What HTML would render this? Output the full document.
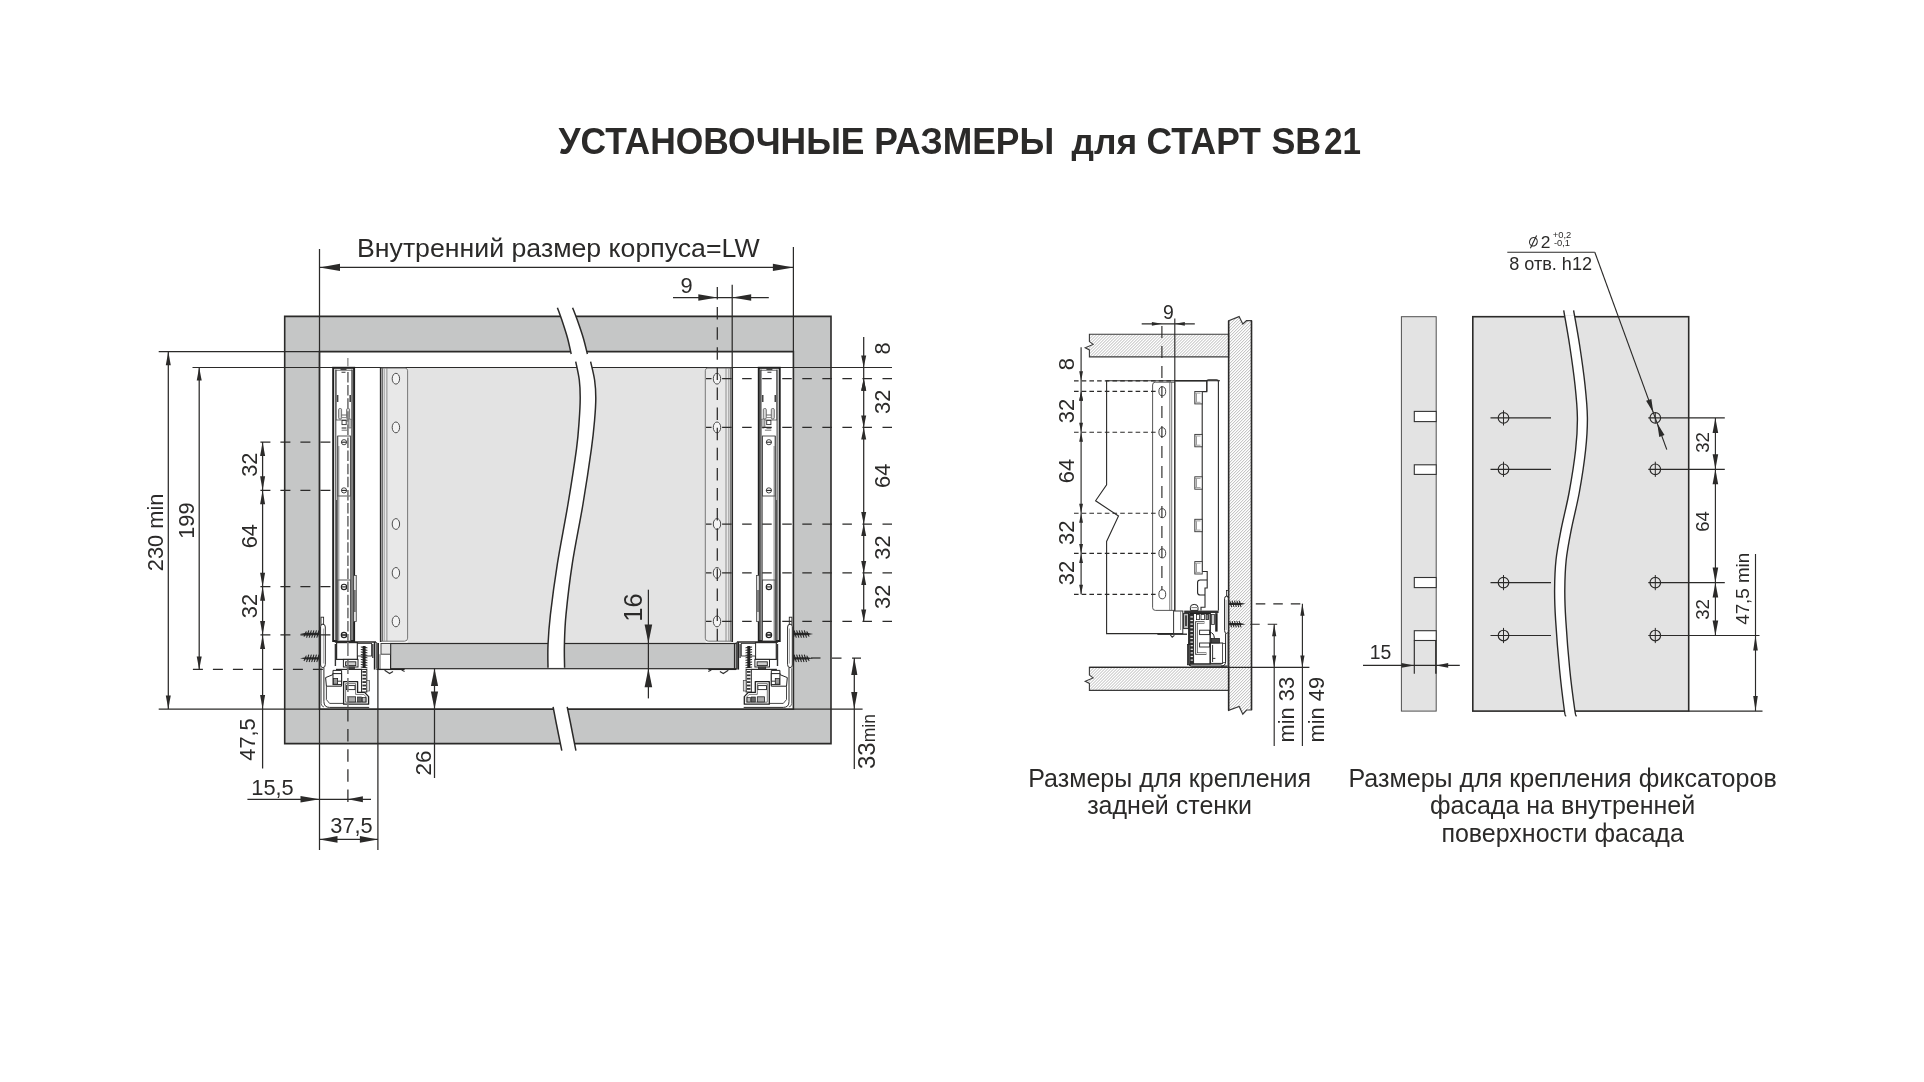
<!DOCTYPE html>
<html lang="ru"><head><meta charset="utf-8"><title>Установочные размеры для СТАРТ SB 21</title>
<style>
html,body{margin:0;padding:0;background:#fff;}
body{width:1924px;height:1082px;overflow:hidden;font-family:"Liberation Sans",sans-serif;}
svg{display:block;font-family:"Liberation Sans",sans-serif;will-change:transform;}
</style></head><body>
<svg width="1924" height="1082" viewBox="0 0 1924 1082">
<rect width="1924" height="1082" fill="#fff"/>
<g id="fig1">
<path d="M284.7 316.4 H831 V743.6 H284.7 Z M319.5 351.6 H793.4 V709.1 H319.5 Z" fill="#c5c6c6" stroke="#2b2a29" stroke-width="1.6" fill-rule="evenodd"/>
<rect x="407.6" y="367.5" width="298.1" height="276" fill="#e3e3e3"/>
<rect x="390.6" y="643.5" width="346.4" height="25.2" fill="#c5c6c6" stroke="#2b2a29" stroke-width="1.2"/>
<line x1="192.5" y1="367.5" x2="892" y2="367.5" stroke="#2b2a29" stroke-width="1.2"/>
<path d="M380.6 368.1 H405.1 Q407.6 368.1 407.6 370.7 V638.2 Q407.6 641.2 404.6 641.2 H380.6 Z" fill="#e8e8e8" stroke="#6a6a6a" stroke-width="0.9" />
<line x1="382.6" y1="368.1" x2="382.6" y2="641.2" stroke="#555" stroke-width="0.9"/>
<line x1="384.4" y1="368.1" x2="384.4" y2="641.2" stroke="#9a9a9a" stroke-width="0.7"/>
<line x1="386.9" y1="368.1" x2="386.9" y2="641.2" stroke="#777" stroke-width="0.8"/>
<line x1="380.6" y1="367.5" x2="380.6" y2="642" stroke="#2b2a29" stroke-width="1.5"/>
<ellipse cx="395.9" cy="378.7" rx="3.7" ry="5.4" fill="#f4f4f4" stroke="#3a3a3a" stroke-width="0.9"/>
<ellipse cx="395.9" cy="427.4" rx="3.7" ry="5.4" fill="#f4f4f4" stroke="#3a3a3a" stroke-width="0.9"/>
<ellipse cx="395.9" cy="524" rx="3.7" ry="5.4" fill="#f4f4f4" stroke="#3a3a3a" stroke-width="0.9"/>
<ellipse cx="395.9" cy="572.9" rx="3.7" ry="5.4" fill="#f4f4f4" stroke="#3a3a3a" stroke-width="0.9"/>
<ellipse cx="395.9" cy="621.4" rx="3.7" ry="5.4" fill="#f4f4f4" stroke="#3a3a3a" stroke-width="0.9"/>
<path d="M732.3 368.1 H707.8 Q705.3 368.1 705.3 370.7 V638.2 Q705.3 641.2 708.3 641.2 H732.3 Z" fill="#e8e8e8" stroke="#6a6a6a" stroke-width="0.9" />
<line x1="730.3" y1="368.1" x2="730.3" y2="641.2" stroke="#555" stroke-width="0.9"/>
<line x1="728.5" y1="368.1" x2="728.5" y2="641.2" stroke="#9a9a9a" stroke-width="0.7"/>
<line x1="726" y1="368.1" x2="726" y2="641.2" stroke="#777" stroke-width="0.8"/>
<line x1="732.3" y1="367.5" x2="732.3" y2="642" stroke="#2b2a29" stroke-width="1.5"/>
<ellipse cx="717" cy="378.7" rx="3.7" ry="5.4" fill="#f4f4f4" stroke="#3a3a3a" stroke-width="0.9"/>
<ellipse cx="717" cy="427.4" rx="3.7" ry="5.4" fill="#f4f4f4" stroke="#3a3a3a" stroke-width="0.9"/>
<ellipse cx="717" cy="524" rx="3.7" ry="5.4" fill="#f4f4f4" stroke="#3a3a3a" stroke-width="0.9"/>
<ellipse cx="717" cy="572.9" rx="3.7" ry="5.4" fill="#f4f4f4" stroke="#3a3a3a" stroke-width="0.9"/>
<ellipse cx="717" cy="621.4" rx="3.7" ry="5.4" fill="#f4f4f4" stroke="#3a3a3a" stroke-width="0.9"/>
<rect x="333.2" y="367.8" width="20.9" height="273.2" fill="#fff" stroke="#1f1f1f" stroke-width="2"/>
<line x1="335.8" y1="369.5" x2="335.8" y2="641" stroke="#333" stroke-width="1"/>
<line x1="352" y1="369.5" x2="352" y2="641" stroke="#2a2a2a" stroke-width="1.2"/>
<line x1="337.4" y1="436" x2="337.4" y2="641" stroke="#555" stroke-width="0.9"/>
<line x1="350.6" y1="436" x2="350.6" y2="641" stroke="#555" stroke-width="0.9"/>
<rect x="336.2" y="370.2" width="15.6" height="49.8" fill="#fff" stroke="#444" stroke-width="0.8"/>
<line x1="340.5" y1="369.2" x2="346.5" y2="369.2" stroke="#333" stroke-width="1.4"/>
<line x1="341.5" y1="372.3" x2="345.5" y2="372.3" stroke="#555" stroke-width="1.2"/>
<line x1="337.6" y1="395" x2="337.6" y2="402" stroke="#444" stroke-width="1.6"/>
<line x1="350.2" y1="395" x2="350.2" y2="402" stroke="#444" stroke-width="1.6"/>
<rect x="338.6" y="408.5" width="3" height="10.5" fill="#d8d8d8" stroke="#555" stroke-width="0.8" rx="1.2"/>
<rect x="346.6" y="408.5" width="3" height="10.5" fill="#d8d8d8" stroke="#555" stroke-width="0.8" rx="1.2"/>
<line x1="341.6" y1="415" x2="346.6" y2="415" stroke="#555" stroke-width="0.9"/>
<line x1="341.6" y1="417.6" x2="346.6" y2="417.6" stroke="#777" stroke-width="0.9"/>
<rect x="342" y="420.5" width="4.2" height="4.1" fill="#fff" stroke="#333" stroke-width="0.9"/>
<rect x="348" y="419" width="3.6" height="9" fill="#bbb" stroke="#555" stroke-width="0.7" rx="1.3"/>
<line x1="341.6" y1="428" x2="346.4" y2="428" stroke="#444" stroke-width="1.2"/>
<line x1="341.6" y1="430.2" x2="348" y2="430.2" stroke="#666" stroke-width="0.9"/>
<rect x="337.8" y="436" width="12.6" height="60" fill="#fff" stroke="#444" stroke-width="0.9"/>
<ellipse cx="344" cy="442.2" rx="2.6" ry="2.6" fill="#fff" stroke="#333" stroke-width="0.9"/>
<ellipse cx="344" cy="490.4" rx="2.6" ry="2.6" fill="#fff" stroke="#333" stroke-width="0.9"/>
<line x1="341.4" y1="442.2" x2="346.6" y2="442.2" stroke="#222" stroke-width="1.1"/>
<line x1="341.4" y1="490.4" x2="346.6" y2="490.4" stroke="#222" stroke-width="1.1"/>
<rect x="337.8" y="580" width="12.6" height="61" fill="#fff" stroke="#444" stroke-width="0.9"/>
<ellipse cx="344" cy="586.9" rx="2.7" ry="2.7" fill="#fff" stroke="#222" stroke-width="1.1"/>
<line x1="341.4" y1="586.9" x2="346.6" y2="586.9" stroke="#222" stroke-width="1.1"/>
<ellipse cx="344" cy="635" rx="2.7" ry="2.7" fill="#fff" stroke="#222" stroke-width="1.2"/>
<line x1="341.4" y1="635" x2="346.6" y2="635" stroke="#222" stroke-width="1.6"/>
<line x1="338.8" y1="446" x2="338.8" y2="640" stroke="#666" stroke-width="0.8"/>
<line x1="336.6" y1="500" x2="336.6" y2="640" stroke="#444" stroke-width="1"/>
<line x1="353.4" y1="500" x2="353.4" y2="575" stroke="#555" stroke-width="0.8"/>
<rect x="353.6" y="575.5" width="2.7" height="45.9" fill="#ddd" stroke="#444" stroke-width="0.8"/>
<line x1="354.9" y1="590" x2="354.9" y2="612" stroke="#444" stroke-width="1.2"/>
<line x1="347.9" y1="372" x2="347.9" y2="641" stroke="#808080" stroke-width="1.8" stroke-dasharray="10.5 2.6"/>
<line x1="347.9" y1="358" x2="347.9" y2="366.4" stroke="#666" stroke-width="1"/>
<rect x="758.8" y="367.8" width="20.9" height="273.2" fill="#fff" stroke="#1f1f1f" stroke-width="2"/>
<line x1="777.1" y1="369.5" x2="777.1" y2="641" stroke="#333" stroke-width="1"/>
<line x1="760.9" y1="369.5" x2="760.9" y2="641" stroke="#2a2a2a" stroke-width="1.2"/>
<line x1="775.5" y1="436" x2="775.5" y2="641" stroke="#555" stroke-width="0.9"/>
<line x1="762.3" y1="436" x2="762.3" y2="641" stroke="#555" stroke-width="0.9"/>
<rect x="761.1" y="370.2" width="15.6" height="49.8" fill="#fff" stroke="#444" stroke-width="0.8"/>
<line x1="772.4" y1="369.2" x2="766.4" y2="369.2" stroke="#333" stroke-width="1.4"/>
<line x1="771.4" y1="372.3" x2="767.4" y2="372.3" stroke="#555" stroke-width="1.2"/>
<line x1="775.3" y1="395" x2="775.3" y2="402" stroke="#444" stroke-width="1.6"/>
<line x1="762.7" y1="395" x2="762.7" y2="402" stroke="#444" stroke-width="1.6"/>
<rect x="771.3" y="408.5" width="3" height="10.5" fill="#d8d8d8" stroke="#555" stroke-width="0.8" rx="1.2"/>
<rect x="763.3" y="408.5" width="3" height="10.5" fill="#d8d8d8" stroke="#555" stroke-width="0.8" rx="1.2"/>
<line x1="771.3" y1="415" x2="766.3" y2="415" stroke="#555" stroke-width="0.9"/>
<line x1="771.3" y1="417.6" x2="766.3" y2="417.6" stroke="#777" stroke-width="0.9"/>
<rect x="766.7" y="420.5" width="4.2" height="4.1" fill="#fff" stroke="#333" stroke-width="0.9"/>
<rect x="761.3" y="419" width="3.6" height="9" fill="#bbb" stroke="#555" stroke-width="0.7" rx="1.3"/>
<line x1="771.3" y1="428" x2="766.5" y2="428" stroke="#444" stroke-width="1.2"/>
<line x1="771.3" y1="430.2" x2="764.9" y2="430.2" stroke="#666" stroke-width="0.9"/>
<rect x="762.5" y="436" width="12.6" height="60" fill="#fff" stroke="#444" stroke-width="0.9"/>
<ellipse cx="768.9" cy="442.2" rx="2.6" ry="2.6" fill="#fff" stroke="#333" stroke-width="0.9"/>
<ellipse cx="768.9" cy="490.4" rx="2.6" ry="2.6" fill="#fff" stroke="#333" stroke-width="0.9"/>
<line x1="771.5" y1="442.2" x2="766.3" y2="442.2" stroke="#222" stroke-width="1.1"/>
<line x1="771.5" y1="490.4" x2="766.3" y2="490.4" stroke="#222" stroke-width="1.1"/>
<rect x="762.5" y="580" width="12.6" height="61" fill="#fff" stroke="#444" stroke-width="0.9"/>
<ellipse cx="768.9" cy="586.9" rx="2.7" ry="2.7" fill="#fff" stroke="#222" stroke-width="1.1"/>
<line x1="771.5" y1="586.9" x2="766.3" y2="586.9" stroke="#222" stroke-width="1.1"/>
<ellipse cx="768.9" cy="635" rx="2.7" ry="2.7" fill="#fff" stroke="#222" stroke-width="1.2"/>
<line x1="771.5" y1="635" x2="766.3" y2="635" stroke="#222" stroke-width="1.6"/>
<line x1="774.1" y1="446" x2="774.1" y2="640" stroke="#666" stroke-width="0.8"/>
<line x1="776.3" y1="500" x2="776.3" y2="640" stroke="#444" stroke-width="1"/>
<line x1="759.5" y1="500" x2="759.5" y2="575" stroke="#555" stroke-width="0.8"/>
<rect x="756.6" y="575.5" width="2.7" height="45.9" fill="#ddd" stroke="#444" stroke-width="0.8"/>
<line x1="758" y1="590" x2="758" y2="612" stroke="#444" stroke-width="1.2"/>
<rect x="321" y="617.2" width="2.6" height="7.2" fill="#fff" stroke="#2b2a29" stroke-width="0.9"/>
<path d="M320.6 626.6 Q320.6 624.2 322.8 624.2 Q325.3 624.2 325.3 627 L325.3 664.6 Q325.3 667.6 322.8 667.6 Q320.6 667.6 320.6 665 L320.6 626.6" fill="#fff" stroke="#2b2a29" stroke-width="1" />
<line x1="323.4" y1="628.5" x2="323.4" y2="663.5" stroke="#8a8a8a" stroke-width="0.7"/>
<path d="M323.9 667.6 L323.9 701.6 Q323.9 707.4 329.6 707.4 L369.2 707.4" fill="none" stroke="#2b2a29" stroke-width="1" />
<path d="M321.2 668.2 L321.2 703.6 Q321.4 706.6 324 707" fill="none" stroke="#444" stroke-width="0.8" />
<rect x="336.6" y="642.6" width="20.8" height="16.8" fill="#fff" stroke="#2b2a29" stroke-width="1.2"/>
<line x1="334.8" y1="642" x2="376" y2="642" stroke="#2b2a29" stroke-width="1.4"/>
<rect x="357.4" y="643.4" width="14.2" height="12.6" fill="#fff" stroke="#333" stroke-width="0.9"/>
<rect x="362.6" y="646" width="3" height="22" fill="#222"/>
<line x1="360.8" y1="647" x2="367.4" y2="647.8" stroke="#222" stroke-width="1"/>
<line x1="360.8" y1="649.5" x2="367.4" y2="650.3" stroke="#222" stroke-width="1"/>
<line x1="360.8" y1="652" x2="367.4" y2="652.8" stroke="#222" stroke-width="1"/>
<line x1="360.8" y1="654.5" x2="367.4" y2="655.3" stroke="#222" stroke-width="1"/>
<line x1="360.8" y1="657" x2="367.4" y2="657.8" stroke="#222" stroke-width="1"/>
<line x1="360.8" y1="659.5" x2="367.4" y2="660.3" stroke="#222" stroke-width="1"/>
<line x1="360.8" y1="662" x2="367.4" y2="662.8" stroke="#222" stroke-width="1"/>
<line x1="360.8" y1="664.5" x2="367.4" y2="665.3" stroke="#222" stroke-width="1"/>
<line x1="360.8" y1="667" x2="367.4" y2="667.8" stroke="#222" stroke-width="1"/>
<line x1="335.4" y1="644" x2="335.4" y2="666" stroke="#333" stroke-width="1.4"/>
<line x1="372.8" y1="644" x2="372.8" y2="658" stroke="#333" stroke-width="1.3"/>
<line x1="374.6" y1="642" x2="374.6" y2="669.6" stroke="#222" stroke-width="1.6"/>
<line x1="376.6" y1="642" x2="376.6" y2="668.6" stroke="#444" stroke-width="0.9"/>
<rect x="343.4" y="659.4" width="14.6" height="7.6" fill="#fff" stroke="#222" stroke-width="1"/>
<rect x="345.6" y="661.8" width="10.2" height="3.8" fill="#ccc" stroke="#222" stroke-width="0.9"/>
<rect x="347.2" y="667" width="7.2" height="2" fill="#555" stroke="#222" stroke-width="0.7"/>
<line x1="336" y1="669.4" x2="362" y2="669.4" stroke="#2b2a29" stroke-width="1.2"/>
<path d="M325.6 677.6 L333 674.6 L333 670.4 L341.6 670.4 L341.6 686.2 L326.4 686.2 Z" fill="#fff" stroke="#222" stroke-width="1" stroke-linejoin="miter"/>
<rect x="333" y="673.6" width="8.6" height="11" fill="#fff" stroke="#222" stroke-width="1"/>
<rect x="333.4" y="678.6" width="4.2" height="5.6" fill="#999" stroke="#222" stroke-width="0.8"/>
<line x1="337.6" y1="681.2" x2="341.6" y2="681.2" stroke="#222" stroke-width="0.9"/>
<path d="M326.4 686.2 L326.4 699.6 L329.6 703.4 L343.4 703.4" fill="none" stroke="#333" stroke-width="0.9" stroke-linejoin="miter"/>
<path d="M343.6 681.6 L357.6 681.6 L357.6 692.4 L364.6 692.4 L368.6 696.6 L368.6 704.2 L343.6 704.2 Z" fill="#fff" stroke="#222" stroke-width="1.3" stroke-linejoin="round"/>
<path d="M345.6 683.6 L355.6 683.6 L355.6 694.4 L363.8 694.4 L366.6 697.4 L366.6 702.2 L345.6 702.2 Z" fill="none" stroke="#444" stroke-width="0.7" stroke-linejoin="round"/>
<rect x="346.4" y="685.6" width="8.6" height="4" fill="#fff" stroke="#222" stroke-width="0.9"/>
<rect x="348.4" y="696.8" width="7.2" height="5.2" fill="#aaa" stroke="#222" stroke-width="0.8"/>
<rect x="357.6" y="697" width="4" height="5" fill="#666" stroke="#222" stroke-width="0.7"/>
<rect x="362.4" y="697.4" width="3.4" height="4.6" fill="#bbb" stroke="#222" stroke-width="0.7"/>
<rect x="361.6" y="669.4" width="5.2" height="22.6" fill="#fff" stroke="#222" stroke-width="1"/>
<rect x="362.4" y="671" width="3.6" height="1.8" fill="#333"/>
<rect x="362.4" y="674.4" width="3.6" height="1.8" fill="#333"/>
<rect x="362.4" y="677.8" width="3.6" height="1.8" fill="#333"/>
<rect x="362.4" y="681.2" width="3.6" height="1.8" fill="#333"/>
<rect x="362.4" y="684.6" width="3.6" height="1.8" fill="#333"/>
<rect x="362.4" y="688" width="3.6" height="1.8" fill="#333"/>
<rect x="366.8" y="680.6" width="2.8" height="10.4" fill="#ddd" stroke="#444" stroke-width="0.7"/>
<line x1="347.9" y1="642" x2="347.9" y2="707" stroke="#7a7a7a" stroke-width="1.6" stroke-dasharray="14 4"/>
<rect x="381" y="643.5" width="9.6" height="10.7" fill="#e6e6e6" stroke="#333" stroke-width="0.9"/>
<line x1="380" y1="654.2" x2="380" y2="669" stroke="#444" stroke-width="0.9"/>
<line x1="378.4" y1="643" x2="378.4" y2="669.6" stroke="#2b2a29" stroke-width="1.2"/>
<path d="M376.4 669.4 L404.6 669.4" fill="none" stroke="#222" stroke-width="1.3" stroke-linejoin="miter"/>
<path d="M384.6 670.2 L389.6 673.6 L393 671.4" fill="none" stroke="#333" stroke-width="1.2" stroke-linejoin="miter"/>
<line x1="401.6" y1="670" x2="404.6" y2="671.4" stroke="#333" stroke-width="1.1"/>
<rect x="789.3" y="617.2" width="2.6" height="7.2" fill="#fff" stroke="#2b2a29" stroke-width="0.9"/>
<path d="M792.3 626.6 Q792.3 624.2 790.1 624.2 Q787.6 624.2 787.6 627 L787.6 664.6 Q787.6 667.6 790.1 667.6 Q792.3 667.6 792.3 665 L792.3 626.6" fill="#fff" stroke="#2b2a29" stroke-width="1" />
<line x1="789.5" y1="628.5" x2="789.5" y2="663.5" stroke="#8a8a8a" stroke-width="0.7"/>
<path d="M789 667.6 L789 701.6 Q789 707.4 783.3 707.4 L743.7 707.4" fill="none" stroke="#2b2a29" stroke-width="1" />
<path d="M791.7 668.2 L791.7 703.6 Q791.5 706.6 788.9 707" fill="none" stroke="#444" stroke-width="0.8" />
<rect x="755.5" y="642.6" width="20.8" height="16.8" fill="#fff" stroke="#2b2a29" stroke-width="1.2"/>
<line x1="778.1" y1="642" x2="736.9" y2="642" stroke="#2b2a29" stroke-width="1.4"/>
<rect x="741.3" y="643.4" width="14.2" height="12.6" fill="#fff" stroke="#333" stroke-width="0.9"/>
<rect x="747.3" y="646" width="3" height="22" fill="#222"/>
<line x1="752.1" y1="647" x2="745.5" y2="647.8" stroke="#222" stroke-width="1"/>
<line x1="752.1" y1="649.5" x2="745.5" y2="650.3" stroke="#222" stroke-width="1"/>
<line x1="752.1" y1="652" x2="745.5" y2="652.8" stroke="#222" stroke-width="1"/>
<line x1="752.1" y1="654.5" x2="745.5" y2="655.3" stroke="#222" stroke-width="1"/>
<line x1="752.1" y1="657" x2="745.5" y2="657.8" stroke="#222" stroke-width="1"/>
<line x1="752.1" y1="659.5" x2="745.5" y2="660.3" stroke="#222" stroke-width="1"/>
<line x1="752.1" y1="662" x2="745.5" y2="662.8" stroke="#222" stroke-width="1"/>
<line x1="752.1" y1="664.5" x2="745.5" y2="665.3" stroke="#222" stroke-width="1"/>
<line x1="752.1" y1="667" x2="745.5" y2="667.8" stroke="#222" stroke-width="1"/>
<line x1="777.5" y1="644" x2="777.5" y2="666" stroke="#333" stroke-width="1.4"/>
<line x1="740.1" y1="644" x2="740.1" y2="658" stroke="#333" stroke-width="1.3"/>
<line x1="738.3" y1="642" x2="738.3" y2="669.6" stroke="#222" stroke-width="1.6"/>
<line x1="736.3" y1="642" x2="736.3" y2="668.6" stroke="#444" stroke-width="0.9"/>
<rect x="754.9" y="659.4" width="14.6" height="7.6" fill="#fff" stroke="#222" stroke-width="1"/>
<rect x="757.1" y="661.8" width="10.2" height="3.8" fill="#ccc" stroke="#222" stroke-width="0.9"/>
<rect x="758.5" y="667" width="7.2" height="2" fill="#555" stroke="#222" stroke-width="0.7"/>
<line x1="776.9" y1="669.4" x2="750.9" y2="669.4" stroke="#2b2a29" stroke-width="1.2"/>
<path d="M787.3 677.6 L779.9 674.6 L779.9 670.4 L771.3 670.4 L771.3 686.2 L786.5 686.2 Z" fill="#fff" stroke="#222" stroke-width="1" stroke-linejoin="miter"/>
<rect x="771.3" y="673.6" width="8.6" height="11" fill="#fff" stroke="#222" stroke-width="1"/>
<rect x="775.3" y="678.6" width="4.2" height="5.6" fill="#999" stroke="#222" stroke-width="0.8"/>
<line x1="775.3" y1="681.2" x2="771.3" y2="681.2" stroke="#222" stroke-width="0.9"/>
<path d="M786.5 686.2 L786.5 699.6 L783.3 703.4 L769.5 703.4" fill="none" stroke="#333" stroke-width="0.9" stroke-linejoin="miter"/>
<path d="M769.3 681.6 L755.3 681.6 L755.3 692.4 L748.3 692.4 L744.3 696.6 L744.3 704.2 L769.3 704.2 Z" fill="#fff" stroke="#222" stroke-width="1.3" stroke-linejoin="round"/>
<path d="M767.3 683.6 L757.3 683.6 L757.3 694.4 L749.1 694.4 L746.3 697.4 L746.3 702.2 L767.3 702.2 Z" fill="none" stroke="#444" stroke-width="0.7" stroke-linejoin="round"/>
<rect x="757.9" y="685.6" width="8.6" height="4" fill="#fff" stroke="#222" stroke-width="0.9"/>
<rect x="757.3" y="696.8" width="7.2" height="5.2" fill="#aaa" stroke="#222" stroke-width="0.8"/>
<rect x="751.3" y="697" width="4" height="5" fill="#666" stroke="#222" stroke-width="0.7"/>
<rect x="747.1" y="697.4" width="3.4" height="4.6" fill="#bbb" stroke="#222" stroke-width="0.7"/>
<rect x="746.1" y="669.4" width="5.2" height="22.6" fill="#fff" stroke="#222" stroke-width="1"/>
<rect x="746.9" y="671" width="3.6" height="1.8" fill="#333"/>
<rect x="746.9" y="674.4" width="3.6" height="1.8" fill="#333"/>
<rect x="746.9" y="677.8" width="3.6" height="1.8" fill="#333"/>
<rect x="746.9" y="681.2" width="3.6" height="1.8" fill="#333"/>
<rect x="746.9" y="684.6" width="3.6" height="1.8" fill="#333"/>
<rect x="746.9" y="688" width="3.6" height="1.8" fill="#333"/>
<rect x="743.3" y="680.6" width="2.8" height="10.4" fill="#ddd" stroke="#444" stroke-width="0.7"/>
<line x1="734.5" y1="643" x2="734.5" y2="669.6" stroke="#2b2a29" stroke-width="1.2"/>
<path d="M736.5 669.4 L708.3 669.4" fill="none" stroke="#222" stroke-width="1.3" stroke-linejoin="miter"/>
<path d="M728.3 670.2 L723.3 673.6 L719.9 671.4" fill="none" stroke="#333" stroke-width="1.2" stroke-linejoin="miter"/>
<line x1="711.3" y1="670" x2="708.3" y2="671.4" stroke="#333" stroke-width="1.1"/>
<path d="M319.8 632.85 L305.8 632.85 L300 634 L305.8 635.15 L319.8 635.15 Z" fill="#2a2a2a" stroke-linejoin="miter"/>
<line x1="318.9" y1="630.7" x2="316.9" y2="637.3" stroke="#222" stroke-width="1.05" stroke-linecap="round"/>
<line x1="316.35" y1="630.7" x2="314.35" y2="637.3" stroke="#222" stroke-width="1.05" stroke-linecap="round"/>
<line x1="313.8" y1="630.7" x2="311.8" y2="637.3" stroke="#222" stroke-width="1.05" stroke-linecap="round"/>
<line x1="311.25" y1="630.7" x2="309.25" y2="637.3" stroke="#222" stroke-width="1.05" stroke-linecap="round"/>
<line x1="308.7" y1="630.7" x2="306.7" y2="637.3" stroke="#222" stroke-width="1.05" stroke-linecap="round"/>
<line x1="306.15" y1="631.7" x2="304.15" y2="636.3" stroke="#222" stroke-width="1.05" stroke-linecap="round"/>
<line x1="319.3" y1="631.1" x2="319.3" y2="636.9" stroke="#222" stroke-width="1"/>
<path d="M319.8 657.15 L305.8 657.15 L300 658.3 L305.8 659.45 L319.8 659.45 Z" fill="#2a2a2a" stroke-linejoin="miter"/>
<line x1="318.9" y1="655" x2="316.9" y2="661.6" stroke="#222" stroke-width="1.05" stroke-linecap="round"/>
<line x1="316.35" y1="655" x2="314.35" y2="661.6" stroke="#222" stroke-width="1.05" stroke-linecap="round"/>
<line x1="313.8" y1="655" x2="311.8" y2="661.6" stroke="#222" stroke-width="1.05" stroke-linecap="round"/>
<line x1="311.25" y1="655" x2="309.25" y2="661.6" stroke="#222" stroke-width="1.05" stroke-linecap="round"/>
<line x1="308.7" y1="655" x2="306.7" y2="661.6" stroke="#222" stroke-width="1.05" stroke-linecap="round"/>
<line x1="306.15" y1="656" x2="304.15" y2="660.6" stroke="#222" stroke-width="1.05" stroke-linecap="round"/>
<line x1="319.3" y1="655.4" x2="319.3" y2="661.2" stroke="#222" stroke-width="1"/>
<path d="M793.3 632.85 L807.3 632.85 L813.1 634 L807.3 635.15 L793.3 635.15 Z" fill="#2a2a2a" stroke-linejoin="miter"/>
<line x1="794.2" y1="630.7" x2="796.2" y2="637.3" stroke="#222" stroke-width="1.05" stroke-linecap="round"/>
<line x1="796.75" y1="630.7" x2="798.75" y2="637.3" stroke="#222" stroke-width="1.05" stroke-linecap="round"/>
<line x1="799.3" y1="630.7" x2="801.3" y2="637.3" stroke="#222" stroke-width="1.05" stroke-linecap="round"/>
<line x1="801.85" y1="630.7" x2="803.85" y2="637.3" stroke="#222" stroke-width="1.05" stroke-linecap="round"/>
<line x1="804.4" y1="630.7" x2="806.4" y2="637.3" stroke="#222" stroke-width="1.05" stroke-linecap="round"/>
<line x1="806.95" y1="631.7" x2="808.95" y2="636.3" stroke="#222" stroke-width="1.05" stroke-linecap="round"/>
<line x1="793.8" y1="631.1" x2="793.8" y2="636.9" stroke="#222" stroke-width="1"/>
<path d="M793.3 657.15 L807.3 657.15 L813.1 658.3 L807.3 659.45 L793.3 659.45 Z" fill="#2a2a2a" stroke-linejoin="miter"/>
<line x1="794.2" y1="655" x2="796.2" y2="661.6" stroke="#222" stroke-width="1.05" stroke-linecap="round"/>
<line x1="796.75" y1="655" x2="798.75" y2="661.6" stroke="#222" stroke-width="1.05" stroke-linecap="round"/>
<line x1="799.3" y1="655" x2="801.3" y2="661.6" stroke="#222" stroke-width="1.05" stroke-linecap="round"/>
<line x1="801.85" y1="655" x2="803.85" y2="661.6" stroke="#222" stroke-width="1.05" stroke-linecap="round"/>
<line x1="804.4" y1="655" x2="806.4" y2="661.6" stroke="#222" stroke-width="1.05" stroke-linecap="round"/>
<line x1="806.95" y1="656" x2="808.95" y2="660.6" stroke="#222" stroke-width="1.05" stroke-linecap="round"/>
<line x1="793.8" y1="655.4" x2="793.8" y2="661.2" stroke="#222" stroke-width="1"/>
<clipPath id="c314"><rect x="500" y="314" width="140" height="40"/></clipPath>
<path d="M557.4 307.7 C558.25 310.08 560.82 316.95 562.5 322 C564.18 327.05 566.05 332.67 567.5 338 C568.95 343.33 570.58 351.33 571.2 354 L587.4 354 C586.72 351.33 584.87 343.33 583.3 338 C581.73 332.67 579.78 327.05 578 322 C576.22 316.95 573.5 310.08 572.6 307.7 Z" fill="#fff" clip-path="url(#c314)"/>
<path d="M557.4 307.7 C558.25 310.08 560.82 316.95 562.5 322 C564.18 327.05 566.05 332.67 567.5 338 C568.95 343.33 570.58 351.33 571.2 354" fill="none" stroke="#2b2a29" stroke-width="1.5" />
<path d="M572.6 307.7 C573.5 310.08 576.22 316.95 578 322 C579.78 327.05 581.73 332.67 583.3 338 C584.87 343.33 586.72 351.33 587.4 354" fill="none" stroke="#2b2a29" stroke-width="1.5" />
<clipPath id="c365"><rect x="500" y="365.5" width="140" height="304.5"/></clipPath>
<path d="M575.7 361.6 C576.3 364.67 578.55 373.93 579.3 380 C580.05 386.07 580.22 391.33 580.2 398 C580.18 404.67 579.82 411.53 579.2 420 C578.58 428.47 578.37 434.8 576.5 448.8 C574.63 462.8 571.18 484.87 568 504 C564.82 523.13 560.33 545.17 557.4 563.6 C554.47 582.03 551.97 601.03 550.4 614.6 C548.83 628.17 548.4 636.13 548 645 C547.6 653.87 548 664 548 667.8 L564.6 667.8 C564.57 664 564.17 653.87 564.4 645 C564.63 636.13 564.68 628.17 566 614.6 C567.32 601.03 569.47 582.03 572.3 563.6 C575.13 545.17 579.82 523.13 583 504 C586.18 484.87 589.47 462.8 591.4 448.8 C593.33 434.8 593.87 428.47 594.6 420 C595.33 411.53 595.8 404.67 595.8 398 C595.8 391.33 595.47 386.07 594.6 380 C593.73 373.93 591.27 364.67 590.6 361.6 Z" fill="#fff" clip-path="url(#c365)"/>
<path d="M575.7 361.6 C576.3 364.67 578.55 373.93 579.3 380 C580.05 386.07 580.22 391.33 580.2 398 C580.18 404.67 579.82 411.53 579.2 420 C578.58 428.47 578.37 434.8 576.5 448.8 C574.63 462.8 571.18 484.87 568 504 C564.82 523.13 560.33 545.17 557.4 563.6 C554.47 582.03 551.97 601.03 550.4 614.6 C548.83 628.17 548.4 636.13 548 645 C547.6 653.87 548 664 548 667.8" fill="none" stroke="#2b2a29" stroke-width="1.5" />
<path d="M590.6 361.6 C591.27 364.67 593.73 373.93 594.6 380 C595.47 386.07 595.8 391.33 595.8 398 C595.8 404.67 595.33 411.53 594.6 420 C593.87 428.47 593.33 434.8 591.4 448.8 C589.47 462.8 586.18 484.87 583 504 C579.82 523.13 575.13 545.17 572.3 563.6 C569.47 582.03 567.32 601.03 566 614.6 C564.68 628.17 564.63 636.13 564.4 645 C564.17 653.87 564.57 664 564.6 667.8" fill="none" stroke="#2b2a29" stroke-width="1.5" />
<clipPath id="c707"><rect x="500" y="707.5" width="140" height="37.5"/></clipPath>
<path d="M553.1 706.9 C553.58 709.42 554.55 714.7 556 722 C557.45 729.3 560.83 745.92 561.8 750.7 L575.9 750.7 C574.97 745.92 571.75 729.3 570.3 722 C568.85 714.7 567.72 709.42 567.2 706.9 Z" fill="#fff" clip-path="url(#c707)"/>
<path d="M553.1 706.9 C553.58 709.42 554.55 714.7 556 722 C557.45 729.3 560.83 745.92 561.8 750.7" fill="none" stroke="#2b2a29" stroke-width="1.5" />
<path d="M567.2 706.9 C567.72 709.42 568.85 714.7 570.3 722 C571.75 729.3 574.97 745.92 575.9 750.7" fill="none" stroke="#2b2a29" stroke-width="1.5" />
<line x1="319.5" y1="249" x2="319.5" y2="850" stroke="#2b2a29" stroke-width="1.25"/>
<line x1="793.4" y1="247" x2="793.4" y2="351.6" stroke="#2b2a29" stroke-width="1.25"/>
<line x1="319.5" y1="267.4" x2="793.4" y2="267.4" stroke="#2b2a29" stroke-width="1.25"/>
<polygon points="319.5,267.4 340,263.8 340,271" fill="#2b2a29"/>
<polygon points="793.4,267.4 772.9,271 772.9,263.8" fill="#2b2a29"/>
<text x="558.3" y="257.2" font-size="26.7" text-anchor="middle" fill="#2b2a29" textLength="402.6" lengthAdjust="spacingAndGlyphs" xml:space="preserve">Внутренний размер корпуса=LW</text>
<line x1="158.7" y1="351.6" x2="319.5" y2="351.6" stroke="#2b2a29" stroke-width="1.25"/>
<line x1="158.7" y1="709.1" x2="319.5" y2="709.1" stroke="#2b2a29" stroke-width="1.25"/>
<line x1="168.3" y1="351.6" x2="168.3" y2="709.1" stroke="#2b2a29" stroke-width="1.25"/>
<polygon points="168.3,351.6 170.8,365.3 165.8,365.3" fill="#2b2a29"/>
<polygon points="168.3,709.1 165.8,695.4 170.8,695.4" fill="#2b2a29"/>
<text x="163" y="532.4" font-size="21.8" text-anchor="middle" fill="#2b2a29" transform="rotate(-90 163 532.4)" xml:space="preserve">230 min</text>
<line x1="199.2" y1="367.5" x2="199.2" y2="669.4" stroke="#2b2a29" stroke-width="1.25"/>
<polygon points="199.2,367.5 201.7,380.5 196.7,380.5" fill="#2b2a29"/>
<polygon points="199.2,669.4 196.7,656.4 201.7,656.4" fill="#2b2a29"/>
<line x1="192.9" y1="669.4" x2="323" y2="669.4" stroke="#2b2a29" stroke-width="1.25" stroke-dasharray="10 10"/>
<text x="193.9" y="520.6" font-size="21.8" text-anchor="middle" fill="#2b2a29" transform="rotate(-90 193.9 520.6)" xml:space="preserve">199</text>
<line x1="260.4" y1="442" x2="333" y2="442" stroke="#2b2a29" stroke-width="1.25" stroke-dasharray="10 10"/>
<line x1="260.4" y1="490.3" x2="333" y2="490.3" stroke="#2b2a29" stroke-width="1.25" stroke-dasharray="10 10"/>
<line x1="260.4" y1="586.7" x2="333" y2="586.7" stroke="#2b2a29" stroke-width="1.25" stroke-dasharray="10 10"/>
<line x1="260.4" y1="634.9" x2="333" y2="634.9" stroke="#2b2a29" stroke-width="1.25" stroke-dasharray="10 10"/>
<line x1="262.6" y1="442" x2="262.6" y2="768.6" stroke="#2b2a29" stroke-width="1.25"/>
<polygon points="262.6,442 265.1,456 260.1,456" fill="#2b2a29"/>
<polygon points="262.6,490.3 260.1,476.3 265.1,476.3" fill="#2b2a29"/>
<polygon points="262.6,490.3 265.1,504.3 260.1,504.3" fill="#2b2a29"/>
<polygon points="262.6,586.7 260.1,572.7 265.1,572.7" fill="#2b2a29"/>
<polygon points="262.6,586.7 265.1,600.7 260.1,600.7" fill="#2b2a29"/>
<polygon points="262.6,634.9 260.1,620.9 265.1,620.9" fill="#2b2a29"/>
<polygon points="262.6,634.9 265.1,648.9 260.1,648.9" fill="#2b2a29"/>
<polygon points="262.6,709 260.1,695 265.1,695" fill="#2b2a29"/>
<text x="256.6" y="464.7" font-size="21.8" text-anchor="middle" fill="#2b2a29" transform="rotate(-90 256.6 464.7)" xml:space="preserve">32</text>
<text x="256.6" y="536.2" font-size="21.8" text-anchor="middle" fill="#2b2a29" transform="rotate(-90 256.6 536.2)" xml:space="preserve">64</text>
<text x="256.6" y="606" font-size="21.8" text-anchor="middle" fill="#2b2a29" transform="rotate(-90 256.6 606)" xml:space="preserve">32</text>
<text x="254.6" y="739.5" font-size="21.8" text-anchor="middle" fill="#2b2a29" transform="rotate(-90 254.6 739.5)" xml:space="preserve">47,5</text>
<line x1="247.4" y1="799.3" x2="371" y2="799.3" stroke="#2b2a29" stroke-width="1.25"/>
<polygon points="319.5,799.3 300.5,802.6 300.5,796" fill="#2b2a29"/>
<polygon points="347.9,799.3 362.9,796.3 362.9,802.3" fill="#2b2a29"/>
<line x1="347.9" y1="709" x2="347.9" y2="806" stroke="#2b2a29" stroke-width="1.25" stroke-dasharray="12.5 7.6"/>
<text x="272.5" y="794.5" font-size="21.8" text-anchor="middle" fill="#2b2a29" xml:space="preserve">15,5</text>
<line x1="377.9" y1="643" x2="377.9" y2="850" stroke="#2b2a29" stroke-width="1.25"/>
<line x1="319.5" y1="839.4" x2="377.9" y2="839.4" stroke="#2b2a29" stroke-width="1.25"/>
<polygon points="319.5,839.4 337.5,836.1 337.5,842.7" fill="#2b2a29"/>
<polygon points="377.9,839.4 359.9,842.7 359.9,836.1" fill="#2b2a29"/>
<text x="351.5" y="832.5" font-size="21.8" text-anchor="middle" fill="#2b2a29" xml:space="preserve">37,5</text>
<line x1="434.5" y1="668.5" x2="434.5" y2="778" stroke="#2b2a29" stroke-width="1.25"/>
<polygon points="434.5,668.5 438.1,686 430.9,686" fill="#2b2a29"/>
<polygon points="434.5,709.1 430.9,691.6 438.1,691.6" fill="#2b2a29"/>
<text x="431" y="762.9" font-size="22.5" text-anchor="middle" fill="#2b2a29" transform="rotate(-90 431 762.9)" xml:space="preserve">26</text>
<line x1="648.4" y1="589.7" x2="648.4" y2="698.4" stroke="#2b2a29" stroke-width="1.25"/>
<polygon points="648.4,643.3 644.6,624.5 652.2,624.5" fill="#2b2a29"/>
<polygon points="648.4,668.5 652.2,687.3 644.6,687.3" fill="#2b2a29"/>
<text x="642.5" y="607.6" font-size="25.5" text-anchor="middle" fill="#2b2a29" transform="rotate(-90 642.5 607.6)" xml:space="preserve">16</text>
<line x1="673" y1="297.5" x2="768.8" y2="297.5" stroke="#2b2a29" stroke-width="1.25"/>
<polygon points="717.3,297.5 698.3,300.8 698.3,294.2" fill="#2b2a29"/>
<polygon points="732.2,297.5 751.2,294.2 751.2,300.8" fill="#2b2a29"/>
<line x1="717.3" y1="287" x2="717.3" y2="641" stroke="#2b2a29" stroke-width="1.25" stroke-dasharray="12.5 7.6"/>
<line x1="732.2" y1="284.8" x2="732.2" y2="367.5" stroke="#2b2a29" stroke-width="1.25"/>
<text x="686.5" y="292.5" font-size="21.8" text-anchor="middle" fill="#2b2a29" xml:space="preserve">9</text>
<line x1="892" y1="378.7" x2="706" y2="378.7" stroke="#2b2a29" stroke-width="1.25" stroke-dasharray="9.5 10.55"/>
<line x1="892" y1="427.4" x2="706" y2="427.4" stroke="#2b2a29" stroke-width="1.25" stroke-dasharray="9.5 10.55"/>
<line x1="892" y1="524" x2="706" y2="524" stroke="#2b2a29" stroke-width="1.25" stroke-dasharray="9.5 10.55"/>
<line x1="892" y1="572.9" x2="706" y2="572.9" stroke="#2b2a29" stroke-width="1.25" stroke-dasharray="9.5 10.55"/>
<line x1="892" y1="621.4" x2="706" y2="621.4" stroke="#2b2a29" stroke-width="1.25" stroke-dasharray="9.5 10.55"/>
<line x1="863.7" y1="337" x2="863.7" y2="621.4" stroke="#2b2a29" stroke-width="1.25"/>
<polygon points="863.7,367.5 861.2,355.5 866.2,355.5" fill="#2b2a29"/>
<polygon points="863.7,378.7 866.2,390.7 861.2,390.7" fill="#2b2a29"/>
<polygon points="863.7,378.7 866.2,390.7 861.2,390.7" fill="#2b2a29"/>
<polygon points="863.7,427.4 861.2,415.4 866.2,415.4" fill="#2b2a29"/>
<polygon points="863.7,427.4 866.2,439.4 861.2,439.4" fill="#2b2a29"/>
<polygon points="863.7,524 861.2,512 866.2,512" fill="#2b2a29"/>
<polygon points="863.7,524 866.2,536 861.2,536" fill="#2b2a29"/>
<polygon points="863.7,572.9 861.2,560.9 866.2,560.9" fill="#2b2a29"/>
<polygon points="863.7,572.9 866.2,584.9 861.2,584.9" fill="#2b2a29"/>
<polygon points="863.7,621.4 861.2,609.4 866.2,609.4" fill="#2b2a29"/>
<text x="890.3" y="348.4" font-size="21.8" text-anchor="middle" fill="#2b2a29" transform="rotate(-90 890.3 348.4)" xml:space="preserve">8</text>
<text x="890.3" y="401.8" font-size="21.8" text-anchor="middle" fill="#2b2a29" transform="rotate(-90 890.3 401.8)" xml:space="preserve">32</text>
<text x="890.3" y="475.8" font-size="21.8" text-anchor="middle" fill="#2b2a29" transform="rotate(-90 890.3 475.8)" xml:space="preserve">64</text>
<text x="890.3" y="547.5" font-size="21.8" text-anchor="middle" fill="#2b2a29" transform="rotate(-90 890.3 547.5)" xml:space="preserve">32</text>
<text x="890.3" y="596.8" font-size="21.8" text-anchor="middle" fill="#2b2a29" transform="rotate(-90 890.3 596.8)" xml:space="preserve">32</text>
<line x1="811" y1="658" x2="820.5" y2="658" stroke="#2b2a29" stroke-width="1.25"/>
<line x1="832" y1="658" x2="861" y2="658" stroke="#2b2a29" stroke-width="1.25" stroke-dasharray="9.5 10.55"/>
<line x1="793.4" y1="709.1" x2="862.6" y2="709.1" stroke="#2b2a29" stroke-width="1.25"/>
<line x1="854.3" y1="658" x2="854.3" y2="769" stroke="#2b2a29" stroke-width="1.25"/>
<polygon points="854.3,658 857.4,675 851.2,675" fill="#2b2a29"/>
<polygon points="854.3,709.1 851.2,692.1 857.4,692.1" fill="#2b2a29"/>
<text transform="rotate(-90 875.2 769)" x="875.2" y="769" font-size="24" fill="#2b2a29">33<tspan font-size="17.5">min</tspan></text>
</g>
<g id="fig2">
<clipPath id="h1"><polygon points="1089.4,334.2 1228.6,334.2 1228.6,356.9 1089.4,356.9 1089.4,349.9 1085.2,347.7 1093.1,344.4 1089.4,341.6"/></clipPath>
<path d="M1062.5 356.9l22.7 -22.7M1065.5 356.9l22.7 -22.7M1068.5 356.9l22.7 -22.7M1071.5 356.9l22.7 -22.7M1074.5 356.9l22.7 -22.7M1077.5 356.9l22.7 -22.7M1080.5 356.9l22.7 -22.7M1083.5 356.9l22.7 -22.7M1086.5 356.9l22.7 -22.7M1089.5 356.9l22.7 -22.7M1092.5 356.9l22.7 -22.7M1095.5 356.9l22.7 -22.7M1098.5 356.9l22.7 -22.7M1101.5 356.9l22.7 -22.7M1104.5 356.9l22.7 -22.7M1107.5 356.9l22.7 -22.7M1110.5 356.9l22.7 -22.7M1113.5 356.9l22.7 -22.7M1116.5 356.9l22.7 -22.7M1119.5 356.9l22.7 -22.7M1122.5 356.9l22.7 -22.7M1125.5 356.9l22.7 -22.7M1128.5 356.9l22.7 -22.7M1131.5 356.9l22.7 -22.7M1134.5 356.9l22.7 -22.7M1137.5 356.9l22.7 -22.7M1140.5 356.9l22.7 -22.7M1143.5 356.9l22.7 -22.7M1146.5 356.9l22.7 -22.7M1149.5 356.9l22.7 -22.7M1152.5 356.9l22.7 -22.7M1155.5 356.9l22.7 -22.7M1158.5 356.9l22.7 -22.7M1161.5 356.9l22.7 -22.7M1164.5 356.9l22.7 -22.7M1167.5 356.9l22.7 -22.7M1170.5 356.9l22.7 -22.7M1173.5 356.9l22.7 -22.7M1176.5 356.9l22.7 -22.7M1179.5 356.9l22.7 -22.7M1182.5 356.9l22.7 -22.7M1185.5 356.9l22.7 -22.7M1188.5 356.9l22.7 -22.7M1191.5 356.9l22.7 -22.7M1194.5 356.9l22.7 -22.7M1197.5 356.9l22.7 -22.7M1200.5 356.9l22.7 -22.7M1203.5 356.9l22.7 -22.7M1206.5 356.9l22.7 -22.7M1209.5 356.9l22.7 -22.7M1212.5 356.9l22.7 -22.7M1215.5 356.9l22.7 -22.7M1218.5 356.9l22.7 -22.7M1221.5 356.9l22.7 -22.7M1224.5 356.9l22.7 -22.7M1227.5 356.9l22.7 -22.7" stroke="#9c9c9c" stroke-width="0.72" fill="none" clip-path="url(#h1)"/>
<path d="M1089.4 334.2 L1228.6 334.2 L1228.6 356.9 L1089.4 356.9 L1089.4 349.9 L1085.2 347.7 L1093.1 344.4 L1089.4 341.6 Z" fill="none" stroke="#3a3a3a" stroke-width="1.1" stroke-linejoin="miter"/>
<clipPath id="h2"><polygon points="1089.4,667.4 1228.6,667.4 1228.6,690.4 1089.4,690.4 1089.4,683.4 1085.2,681.2 1093.1,677.9 1089.4,675.1"/></clipPath>
<path d="M1062.2 690.4l23 -23M1065.2 690.4l23 -23M1068.2 690.4l23 -23M1071.2 690.4l23 -23M1074.2 690.4l23 -23M1077.2 690.4l23 -23M1080.2 690.4l23 -23M1083.2 690.4l23 -23M1086.2 690.4l23 -23M1089.2 690.4l23 -23M1092.2 690.4l23 -23M1095.2 690.4l23 -23M1098.2 690.4l23 -23M1101.2 690.4l23 -23M1104.2 690.4l23 -23M1107.2 690.4l23 -23M1110.2 690.4l23 -23M1113.2 690.4l23 -23M1116.2 690.4l23 -23M1119.2 690.4l23 -23M1122.2 690.4l23 -23M1125.2 690.4l23 -23M1128.2 690.4l23 -23M1131.2 690.4l23 -23M1134.2 690.4l23 -23M1137.2 690.4l23 -23M1140.2 690.4l23 -23M1143.2 690.4l23 -23M1146.2 690.4l23 -23M1149.2 690.4l23 -23M1152.2 690.4l23 -23M1155.2 690.4l23 -23M1158.2 690.4l23 -23M1161.2 690.4l23 -23M1164.2 690.4l23 -23M1167.2 690.4l23 -23M1170.2 690.4l23 -23M1173.2 690.4l23 -23M1176.2 690.4l23 -23M1179.2 690.4l23 -23M1182.2 690.4l23 -23M1185.2 690.4l23 -23M1188.2 690.4l23 -23M1191.2 690.4l23 -23M1194.2 690.4l23 -23M1197.2 690.4l23 -23M1200.2 690.4l23 -23M1203.2 690.4l23 -23M1206.2 690.4l23 -23M1209.2 690.4l23 -23M1212.2 690.4l23 -23M1215.2 690.4l23 -23M1218.2 690.4l23 -23M1221.2 690.4l23 -23M1224.2 690.4l23 -23M1227.2 690.4l23 -23" stroke="#9c9c9c" stroke-width="0.72" fill="none" clip-path="url(#h2)"/>
<path d="M1089.4 667.4 L1228.6 667.4 L1228.6 690.4 L1089.4 690.4 L1089.4 683.4 L1085.2 681.2 L1093.1 677.9 L1089.4 675.1 Z" fill="none" stroke="#3a3a3a" stroke-width="1.1" stroke-linejoin="miter"/>
<clipPath id="h3"><polygon points="1228.6,320.7 1239.1,316.6 1242.8,324 1246.5,320.7 1251.5,320.7 1251.5,710 1246.6,710 1242.8,714.2 1239.2,706.4 1228.6,710.4"/></clipPath>
<path d="M831 714.2l397.6 -397.6M834 714.2l397.6 -397.6M837 714.2l397.6 -397.6M840 714.2l397.6 -397.6M843 714.2l397.6 -397.6M846 714.2l397.6 -397.6M849 714.2l397.6 -397.6M852 714.2l397.6 -397.6M855 714.2l397.6 -397.6M858 714.2l397.6 -397.6M861 714.2l397.6 -397.6M864 714.2l397.6 -397.6M867 714.2l397.6 -397.6M870 714.2l397.6 -397.6M873 714.2l397.6 -397.6M876 714.2l397.6 -397.6M879 714.2l397.6 -397.6M882 714.2l397.6 -397.6M885 714.2l397.6 -397.6M888 714.2l397.6 -397.6M891 714.2l397.6 -397.6M894 714.2l397.6 -397.6M897 714.2l397.6 -397.6M900 714.2l397.6 -397.6M903 714.2l397.6 -397.6M906 714.2l397.6 -397.6M909 714.2l397.6 -397.6M912 714.2l397.6 -397.6M915 714.2l397.6 -397.6M918 714.2l397.6 -397.6M921 714.2l397.6 -397.6M924 714.2l397.6 -397.6M927 714.2l397.6 -397.6M930 714.2l397.6 -397.6M933 714.2l397.6 -397.6M936 714.2l397.6 -397.6M939 714.2l397.6 -397.6M942 714.2l397.6 -397.6M945 714.2l397.6 -397.6M948 714.2l397.6 -397.6M951 714.2l397.6 -397.6M954 714.2l397.6 -397.6M957 714.2l397.6 -397.6M960 714.2l397.6 -397.6M963 714.2l397.6 -397.6M966 714.2l397.6 -397.6M969 714.2l397.6 -397.6M972 714.2l397.6 -397.6M975 714.2l397.6 -397.6M978 714.2l397.6 -397.6M981 714.2l397.6 -397.6M984 714.2l397.6 -397.6M987 714.2l397.6 -397.6M990 714.2l397.6 -397.6M993 714.2l397.6 -397.6M996 714.2l397.6 -397.6M999 714.2l397.6 -397.6M1002 714.2l397.6 -397.6M1005 714.2l397.6 -397.6M1008 714.2l397.6 -397.6M1011 714.2l397.6 -397.6M1014 714.2l397.6 -397.6M1017 714.2l397.6 -397.6M1020 714.2l397.6 -397.6M1023 714.2l397.6 -397.6M1026 714.2l397.6 -397.6M1029 714.2l397.6 -397.6M1032 714.2l397.6 -397.6M1035 714.2l397.6 -397.6M1038 714.2l397.6 -397.6M1041 714.2l397.6 -397.6M1044 714.2l397.6 -397.6M1047 714.2l397.6 -397.6M1050 714.2l397.6 -397.6M1053 714.2l397.6 -397.6M1056 714.2l397.6 -397.6M1059 714.2l397.6 -397.6M1062 714.2l397.6 -397.6M1065 714.2l397.6 -397.6M1068 714.2l397.6 -397.6M1071 714.2l397.6 -397.6M1074 714.2l397.6 -397.6M1077 714.2l397.6 -397.6M1080 714.2l397.6 -397.6M1083 714.2l397.6 -397.6M1086 714.2l397.6 -397.6M1089 714.2l397.6 -397.6M1092 714.2l397.6 -397.6M1095 714.2l397.6 -397.6M1098 714.2l397.6 -397.6M1101 714.2l397.6 -397.6M1104 714.2l397.6 -397.6M1107 714.2l397.6 -397.6M1110 714.2l397.6 -397.6M1113 714.2l397.6 -397.6M1116 714.2l397.6 -397.6M1119 714.2l397.6 -397.6M1122 714.2l397.6 -397.6M1125 714.2l397.6 -397.6M1128 714.2l397.6 -397.6M1131 714.2l397.6 -397.6M1134 714.2l397.6 -397.6M1137 714.2l397.6 -397.6M1140 714.2l397.6 -397.6M1143 714.2l397.6 -397.6M1146 714.2l397.6 -397.6M1149 714.2l397.6 -397.6M1152 714.2l397.6 -397.6M1155 714.2l397.6 -397.6M1158 714.2l397.6 -397.6M1161 714.2l397.6 -397.6M1164 714.2l397.6 -397.6M1167 714.2l397.6 -397.6M1170 714.2l397.6 -397.6M1173 714.2l397.6 -397.6M1176 714.2l397.6 -397.6M1179 714.2l397.6 -397.6M1182 714.2l397.6 -397.6M1185 714.2l397.6 -397.6M1188 714.2l397.6 -397.6M1191 714.2l397.6 -397.6M1194 714.2l397.6 -397.6M1197 714.2l397.6 -397.6M1200 714.2l397.6 -397.6M1203 714.2l397.6 -397.6M1206 714.2l397.6 -397.6M1209 714.2l397.6 -397.6M1212 714.2l397.6 -397.6M1215 714.2l397.6 -397.6M1218 714.2l397.6 -397.6M1221 714.2l397.6 -397.6M1224 714.2l397.6 -397.6M1227 714.2l397.6 -397.6M1230 714.2l397.6 -397.6M1233 714.2l397.6 -397.6M1236 714.2l397.6 -397.6M1239 714.2l397.6 -397.6M1242 714.2l397.6 -397.6M1245 714.2l397.6 -397.6M1248 714.2l397.6 -397.6M1251 714.2l397.6 -397.6" stroke="#9c9c9c" stroke-width="0.72" fill="none" clip-path="url(#h3)"/>
<path d="M1228.6 320.7 L1239.1 316.6 L1242.8 324 L1246.5 320.7 L1251.5 320.7 L1251.5 710 L1246.6 710 L1242.8 714.2 L1239.2 706.4 L1228.6 710.4 Z" fill="none" stroke="#3a3a3a" stroke-width="1.2" stroke-linejoin="miter"/>
<line x1="1228.6" y1="320.7" x2="1228.6" y2="710.4" stroke="#2b2a29" stroke-width="1.5"/>
<line x1="1251.5" y1="320.7" x2="1251.5" y2="710" stroke="#2b2a29" stroke-width="1.5"/>
<line x1="1089.4" y1="667.4" x2="1309.4" y2="667.4" stroke="#2b2a29" stroke-width="1.2"/>
<path d="M1220 380.8 L1106.6 380.8 L1106.6 484.8 L1095.6 500.8 L1118.5 516 L1106.6 541.4 L1106.6 633.6 L1173.6 633.6" fill="none" stroke="#2b2a29" stroke-width="1.1" stroke-linejoin="miter"/>
<path d="M1155.2 382.2 H1174.8 V610.4 H1155.4 Q1152.6 610.4 1152.6 607.6 V385 Q1152.6 382.2 1155.2 382.2 Z" fill="#fff" stroke="#444" stroke-width="0.9" />
<line x1="1169.8" y1="382.2" x2="1169.8" y2="610.4" stroke="#555" stroke-width="0.8"/>
<line x1="1171.7" y1="382.2" x2="1171.7" y2="610.4" stroke="#555" stroke-width="0.8"/>
<ellipse cx="1162.3" cy="391.3" rx="3.4" ry="4.5" fill="#fff" stroke="#333" stroke-width="0.9"/>
<ellipse cx="1162.3" cy="432.2" rx="3.4" ry="4.5" fill="#fff" stroke="#333" stroke-width="0.9"/>
<ellipse cx="1162.3" cy="513.2" rx="3.4" ry="4.5" fill="#fff" stroke="#333" stroke-width="0.9"/>
<ellipse cx="1162.3" cy="553.4" rx="3.4" ry="4.5" fill="#fff" stroke="#333" stroke-width="0.9"/>
<ellipse cx="1162.3" cy="594.3" rx="3.4" ry="4.5" fill="#fff" stroke="#333" stroke-width="0.9"/>
<line x1="1174.8" y1="380.8" x2="1174.8" y2="611" stroke="#2b2a29" stroke-width="1.2"/>
<path d="M1174.8 380.8 H1206.8" fill="none" stroke="#2b2a29" stroke-width="1.6" />
<path d="M1206.8 391.6 V381.6 Q1206.8 379.9 1208.6 379.9 H1216.4 Q1218.4 379.9 1218.4 381.8 V625" fill="none" stroke="#2b2a29" stroke-width="1.1" />
<path d="M1206.8 380.2 V391.6 H1202.2 V571.5 H1207.2 V588 H1205 V607.2 H1201 V611" fill="none" stroke="#2b2a29" stroke-width="1.1" />
<rect x="1194.8" y="391.5" width="7.4" height="12.4" fill="#fff" stroke="#333" stroke-width="0.9"/>
<line x1="1196.3" y1="393.5" x2="1196.3" y2="401.9" stroke="#666" stroke-width="0.8"/>
<line x1="1194.8" y1="393.1" x2="1200.5" y2="393.1" stroke="#777" stroke-width="0.7"/>
<line x1="1194.8" y1="402.3" x2="1200.5" y2="402.3" stroke="#777" stroke-width="0.7"/>
<rect x="1194.8" y="434.4" width="7.4" height="12.4" fill="#fff" stroke="#333" stroke-width="0.9"/>
<line x1="1196.3" y1="436.4" x2="1196.3" y2="444.8" stroke="#666" stroke-width="0.8"/>
<line x1="1194.8" y1="436" x2="1200.5" y2="436" stroke="#777" stroke-width="0.7"/>
<line x1="1194.8" y1="445.2" x2="1200.5" y2="445.2" stroke="#777" stroke-width="0.7"/>
<rect x="1194.8" y="476.8" width="7.4" height="12.4" fill="#fff" stroke="#333" stroke-width="0.9"/>
<line x1="1196.3" y1="478.8" x2="1196.3" y2="487.2" stroke="#666" stroke-width="0.8"/>
<line x1="1194.8" y1="478.4" x2="1200.5" y2="478.4" stroke="#777" stroke-width="0.7"/>
<line x1="1194.8" y1="487.6" x2="1200.5" y2="487.6" stroke="#777" stroke-width="0.7"/>
<rect x="1194.8" y="519.3" width="7.4" height="12.4" fill="#fff" stroke="#333" stroke-width="0.9"/>
<line x1="1196.3" y1="521.3" x2="1196.3" y2="529.7" stroke="#666" stroke-width="0.8"/>
<line x1="1194.8" y1="520.9" x2="1200.5" y2="520.9" stroke="#777" stroke-width="0.7"/>
<line x1="1194.8" y1="530.1" x2="1200.5" y2="530.1" stroke="#777" stroke-width="0.7"/>
<rect x="1194.8" y="561.6" width="7.4" height="12.4" fill="#fff" stroke="#333" stroke-width="0.9"/>
<line x1="1196.3" y1="563.6" x2="1196.3" y2="572" stroke="#666" stroke-width="0.8"/>
<line x1="1194.8" y1="563.2" x2="1200.5" y2="563.2" stroke="#777" stroke-width="0.7"/>
<line x1="1194.8" y1="572.4" x2="1200.5" y2="572.4" stroke="#777" stroke-width="0.7"/>
<path d="M1207 580 H1200.2 Q1197.6 580 1197.6 582.6 V592.4 Q1197.6 595 1200.2 595 H1205" fill="none" stroke="#222" stroke-width="1.1" />
<rect x="1173.6" y="611" width="9.2" height="22.6" fill="#fff" stroke="#333" stroke-width="1"/>
<line x1="1180.6" y1="611" x2="1180.6" y2="630" stroke="#777" stroke-width="0.8"/>
<path d="M1157.4 634.2 L1187 634.2" fill="none" stroke="#222" stroke-width="1.3" stroke-linejoin="miter"/>
<path d="M1170.4 635 L1172.2 637.2 L1174.4 635.4" fill="none" stroke="#333" stroke-width="1.1" stroke-linejoin="miter"/>
<rect x="1187.2" y="610.6" width="40.8" height="55.6" fill="#fff"/>
<path d="M1190.4 607.4 Q1190.4 604.4 1194.2 604.4 Q1198 604.4 1198 607.4 V610.4 H1190.4 Z" fill="#fff" stroke="#222" stroke-width="1" />
<line x1="1191.4" y1="607.6" x2="1197" y2="607.6" stroke="#555" stroke-width="0.8"/>
<rect x="1184.2" y="610.6" width="34.4" height="2.4" fill="#333"/>
<path d="M1189.4 613.4 L1210.2 613.4 L1210.2 664 L1189.4 664" fill="none" stroke="#222" stroke-width="1.4" stroke-linejoin="miter"/>
<rect x="1183.6" y="613.4" width="5" height="15.2" fill="#bbb" stroke="#222" stroke-width="0.9"/>
<rect x="1185" y="615.4" width="2" height="10.6" fill="#444"/>
<rect x="1188.6" y="614" width="5" height="50" fill="#2e2e2e" stroke="#222" stroke-width="0.9"/>
<rect x="1190.4" y="616.3" width="2.5" height="1.2" fill="#e8e8e8"/>
<rect x="1190.4" y="619.9" width="2.5" height="1.2" fill="#e8e8e8"/>
<rect x="1190.4" y="623.5" width="2.5" height="1.2" fill="#e8e8e8"/>
<rect x="1190.4" y="627.1" width="2.5" height="1.2" fill="#e8e8e8"/>
<rect x="1190.4" y="630.7" width="2.5" height="1.2" fill="#e8e8e8"/>
<rect x="1190.4" y="634.3" width="2.5" height="1.2" fill="#e8e8e8"/>
<rect x="1190.4" y="637.9" width="2.5" height="1.2" fill="#e8e8e8"/>
<rect x="1190.4" y="641.5" width="2.5" height="1.2" fill="#e8e8e8"/>
<rect x="1190.4" y="645.1" width="2.5" height="1.2" fill="#e8e8e8"/>
<rect x="1190.4" y="648.7" width="2.5" height="1.2" fill="#e8e8e8"/>
<rect x="1190.4" y="652.3" width="2.5" height="1.2" fill="#e8e8e8"/>
<rect x="1190.4" y="655.9" width="2.5" height="1.2" fill="#e8e8e8"/>
<rect x="1190.4" y="659.5" width="2.5" height="1.2" fill="#e8e8e8"/>
<rect x="1187.4" y="644.4" width="2.6" height="20.4" fill="#999" stroke="#222" stroke-width="0.8"/>
<path d="M1204.4 622.4 L1196.4 622.4 L1196.4 653.6 L1206.4 653.6" fill="none" stroke="#222" stroke-width="2.4" stroke-linejoin="miter"/>
<path d="M1204.4 622.4 L1196.4 622.4 L1196.4 653.6 L1206.4 653.6" fill="none" stroke="#fff" stroke-width="1" stroke-linejoin="miter"/>
<rect x="1199.6" y="630.2" width="10" height="4.4" fill="#fff" stroke="#222" stroke-width="0.9"/>
<rect x="1199.6" y="643" width="10" height="4" fill="#fff" stroke="#222" stroke-width="0.9"/>
<rect x="1196.6" y="614.4" width="2.8" height="5.2" fill="#fff" stroke="#222" stroke-width="0.8"/>
<rect x="1201" y="614.4" width="3.6" height="5.2" fill="#fff" stroke="#222" stroke-width="0.8"/>
<rect x="1206" y="614.4" width="2.6" height="5.2" fill="#888" stroke="#222" stroke-width="0.8"/>
<path d="M1209.6 632.4 Q1214 632.4 1214.4 638.4" fill="none" stroke="#222" stroke-width="1" />
<rect x="1211.4" y="614.6" width="3.2" height="9.8" fill="#ccc" stroke="#333" stroke-width="0.8"/>
<rect x="1215.2" y="613.2" width="2.4" height="18.4" fill="#222"/>
<rect x="1210.4" y="643" width="12.2" height="20.4" fill="#fff" stroke="#222" stroke-width="1"/>
<rect x="1211.4" y="638.4" width="8" height="4.6" fill="#444" stroke="#222" stroke-width="0.8"/>
<line x1="1212.6" y1="645" x2="1212.6" y2="662" stroke="#333" stroke-width="1"/>
<line x1="1212.6" y1="658.4" x2="1215.4" y2="658.4" stroke="#333" stroke-width="1"/>
<rect x="1222.6" y="643.6" width="3" height="19" fill="#fff" stroke="#444" stroke-width="0.8"/>
<path d="M1188.8 644 V662.4 Q1188.8 666.2 1192.6 666.2 H1227.6" fill="none" stroke="#222" stroke-width="1.2" />
<line x1="1190.4" y1="664.4" x2="1221.6" y2="664.4" stroke="#555" stroke-width="0.9"/>
<rect x="1226.4" y="590.4" width="1.8" height="5.8" fill="#fff" stroke="#222" stroke-width="0.8"/>
<path d="M1228.3 598.4 Q1228.3 596.2 1226.6 596.2 Q1224.6 596.2 1224.6 598.6 V630.6 Q1224.6 633.4 1226.6 633.4 Q1228.3 633.4 1228.3 631.2 Z" fill="#fff" stroke="#222" stroke-width="1" />
<line x1="1226.2" y1="600" x2="1226.2" y2="630" stroke="#8a8a8a" stroke-width="0.6"/>
<path d="M1225.6 633.4 V661.6 Q1225.6 666.2 1221.0 666.2" fill="none" stroke="#222" stroke-width="1" />
<line x1="1227.8" y1="633.4" x2="1227.8" y2="666.4" stroke="#444" stroke-width="0.8"/>
<path d="M1228.8 602.7 L1240.3 602.7 L1245.6 603.8 L1240.3 604.9 L1228.8 604.9 Z" fill="#2a2a2a" stroke-linejoin="miter"/>
<line x1="1229.9" y1="601" x2="1231.5" y2="606.6" stroke="#222" stroke-width="1" stroke-linecap="round"/>
<line x1="1232.25" y1="601" x2="1233.85" y2="606.6" stroke="#222" stroke-width="1" stroke-linecap="round"/>
<line x1="1234.6" y1="601" x2="1236.2" y2="606.6" stroke="#222" stroke-width="1" stroke-linecap="round"/>
<line x1="1236.95" y1="601" x2="1238.55" y2="606.6" stroke="#222" stroke-width="1" stroke-linecap="round"/>
<line x1="1239.3" y1="601" x2="1240.9" y2="606.6" stroke="#222" stroke-width="1" stroke-linecap="round"/>
<path d="M1228.8 623.1 L1240.3 623.1 L1245.6 624.2 L1240.3 625.3 L1228.8 625.3 Z" fill="#2a2a2a" stroke-linejoin="miter"/>
<line x1="1229.9" y1="621.4" x2="1231.5" y2="627" stroke="#222" stroke-width="1" stroke-linecap="round"/>
<line x1="1232.25" y1="621.4" x2="1233.85" y2="627" stroke="#222" stroke-width="1" stroke-linecap="round"/>
<line x1="1234.6" y1="621.4" x2="1236.2" y2="627" stroke="#222" stroke-width="1" stroke-linecap="round"/>
<line x1="1236.95" y1="621.4" x2="1238.55" y2="627" stroke="#222" stroke-width="1" stroke-linecap="round"/>
<line x1="1239.3" y1="621.4" x2="1240.9" y2="627" stroke="#222" stroke-width="1" stroke-linecap="round"/>
<line x1="1141.7" y1="323.8" x2="1194.8" y2="323.8" stroke="#2b2a29" stroke-width="1.15"/>
<polygon points="1161.9,323.8 1151.9,325.7 1151.9,321.9" fill="#2b2a29"/>
<polygon points="1174.8,323.8 1184.8,321.9 1184.8,325.7" fill="#2b2a29"/>
<line x1="1161.9" y1="326" x2="1161.9" y2="590" stroke="#2b2a29" stroke-width="1.15" stroke-dasharray="12 8"/>
<line x1="1174.8" y1="318.6" x2="1174.8" y2="381" stroke="#2b2a29" stroke-width="1.15"/>
<text x="1168.5" y="318.6" font-size="19.4" text-anchor="middle" fill="#2b2a29" xml:space="preserve">9</text>
<line x1="1074" y1="380.8" x2="1174.4" y2="380.8" stroke="#2b2a29" stroke-width="1.15" stroke-dasharray="4.6 3.1"/>
<line x1="1074" y1="391.3" x2="1158.8" y2="391.3" stroke="#2b2a29" stroke-width="1.15" stroke-dasharray="4.6 3.1"/>
<line x1="1074" y1="432.2" x2="1158.8" y2="432.2" stroke="#2b2a29" stroke-width="1.15" stroke-dasharray="4.6 3.1"/>
<line x1="1074" y1="513.2" x2="1158.8" y2="513.2" stroke="#2b2a29" stroke-width="1.15" stroke-dasharray="4.6 3.1"/>
<line x1="1074" y1="553.4" x2="1158.8" y2="553.4" stroke="#2b2a29" stroke-width="1.15" stroke-dasharray="4.6 3.1"/>
<line x1="1074" y1="594.3" x2="1158.8" y2="594.3" stroke="#2b2a29" stroke-width="1.15" stroke-dasharray="4.6 3.1"/>
<line x1="1081.1" y1="347.2" x2="1081.1" y2="594.3" stroke="#2b2a29" stroke-width="1.15"/>
<polygon points="1081.1,380.8 1079.2,371.3 1083,371.3" fill="#2b2a29"/>
<polygon points="1081.1,391.3 1083,400.8 1079.2,400.8" fill="#2b2a29"/>
<polygon points="1081.1,391.3 1083,400.8 1079.2,400.8" fill="#2b2a29"/>
<polygon points="1081.1,432.2 1079.2,422.7 1083,422.7" fill="#2b2a29"/>
<polygon points="1081.1,432.2 1083,441.7 1079.2,441.7" fill="#2b2a29"/>
<polygon points="1081.1,513.2 1079.2,503.7 1083,503.7" fill="#2b2a29"/>
<polygon points="1081.1,513.2 1083,522.7 1079.2,522.7" fill="#2b2a29"/>
<polygon points="1081.1,553.4 1079.2,543.9 1083,543.9" fill="#2b2a29"/>
<polygon points="1081.1,553.4 1083,562.9 1079.2,562.9" fill="#2b2a29"/>
<polygon points="1081.1,594.3 1079.2,584.8 1083,584.8" fill="#2b2a29"/>
<text x="1074.4" y="364.2" font-size="22" text-anchor="middle" fill="#2b2a29" transform="rotate(-90 1074.4 364.2)" xml:space="preserve">8</text>
<text x="1074.4" y="411" font-size="22" text-anchor="middle" fill="#2b2a29" transform="rotate(-90 1074.4 411)" xml:space="preserve">32</text>
<text x="1074.4" y="471.1" font-size="22" text-anchor="middle" fill="#2b2a29" transform="rotate(-90 1074.4 471.1)" xml:space="preserve">64</text>
<text x="1074.4" y="532.8" font-size="22" text-anchor="middle" fill="#2b2a29" transform="rotate(-90 1074.4 532.8)" xml:space="preserve">32</text>
<text x="1074.4" y="573.1" font-size="22" text-anchor="middle" fill="#2b2a29" transform="rotate(-90 1074.4 573.1)" xml:space="preserve">32</text>
<line x1="1255.8" y1="603.8" x2="1306.4" y2="603.8" stroke="#2b2a29" stroke-width="1.15" stroke-dasharray="9.5 8.0"/>
<line x1="1250.2" y1="624.2" x2="1279.6" y2="624.2" stroke="#2b2a29" stroke-width="1.15" stroke-dasharray="9.5 8.0"/>
<line x1="1274.2" y1="624.2" x2="1274.2" y2="746" stroke="#2b2a29" stroke-width="1.15"/>
<line x1="1302.4" y1="603.8" x2="1302.4" y2="746" stroke="#2b2a29" stroke-width="1.15"/>
<polygon points="1274.2,624.2 1276.3,636.2 1272.1,636.2" fill="#2b2a29"/>
<polygon points="1274.2,667.4 1272.1,655.4 1276.3,655.4" fill="#2b2a29"/>
<polygon points="1302.4,603.8 1304.5,615.8 1300.3,615.8" fill="#2b2a29"/>
<polygon points="1302.4,667.4 1300.3,655.4 1304.5,655.4" fill="#2b2a29"/>
<text x="1294.4" y="742.4" font-size="21.8" text-anchor="start" fill="#2b2a29" transform="rotate(-90 1294.4 742.4)" xml:space="preserve">min 33</text>
<text x="1323.6" y="742.4" font-size="21.8" text-anchor="start" fill="#2b2a29" transform="rotate(-90 1323.6 742.4)" xml:space="preserve">min 49</text>
</g>
<g id="fig3">
<rect x="1401.4" y="316.7" width="34.8" height="394.4" fill="#e3e3e3" stroke="#505050" stroke-width="1"/>
<rect x="1414.3" y="411.4" width="21.9" height="10.2" fill="#fff" stroke="#333" stroke-width="1.1"/>
<rect x="1414.3" y="464.8" width="21.9" height="9.6" fill="#fff" stroke="#333" stroke-width="1.1"/>
<rect x="1414.3" y="577.5" width="21.9" height="10.1" fill="#fff" stroke="#333" stroke-width="1.1"/>
<rect x="1414.3" y="630.7" width="21.9" height="9.8" fill="#fff" stroke="#333" stroke-width="1.1"/>
<rect x="1472.8" y="316.7" width="215.9" height="394.4" fill="#e3e3e3" stroke="#2b2a29" stroke-width="1.6"/>
<clipPath id="c3"><rect x="1540" y="315.7" width="60" height="396.4"/></clipPath>
<path d="M1563.7 310.4 C1564.68 316.17 1567.72 332.57 1569.6 345 C1571.48 357.43 1573.7 372.88 1575 385 C1576.3 397.12 1577.3 406.87 1577.4 417.7 C1577.5 428.53 1576.97 437.62 1575.6 450 C1574.23 462.38 1571.63 478.67 1569.2 492 C1566.77 505.33 1563.2 518.67 1561 530 C1558.8 541.33 1557.07 550 1556 560 C1554.93 570 1554.67 580 1554.6 590 C1554.53 600 1554.77 606.67 1555.6 620 C1556.43 633.33 1558.15 655 1559.6 670 C1561.05 685 1563.27 702.28 1564.3 710 C1565.33 717.72 1565.55 715.25 1565.8 716.3 L1576.4 716.3 C1576.13 715.25 1575.9 717.72 1574.8 710 C1573.7 702.28 1571.3 685 1569.8 670 C1568.3 655 1566.63 633.33 1565.8 620 C1564.97 606.67 1564.73 600 1564.8 590 C1564.87 580 1565.13 570 1566.2 560 C1567.27 550 1569 541.33 1571.2 530 C1573.4 518.67 1577 505.33 1579.4 492 C1581.8 478.67 1584.27 462.38 1585.6 450 C1586.93 437.62 1587.5 428.53 1587.4 417.7 C1587.3 406.87 1586.3 397.12 1585 385 C1583.7 372.88 1581.5 357.43 1579.6 345 C1577.7 332.57 1574.6 316.17 1573.6 310.4 Z" fill="#fff" clip-path="url(#c3)"/>
<path d="M1563.7 310.4 C1564.68 316.17 1567.72 332.57 1569.6 345 C1571.48 357.43 1573.7 372.88 1575 385 C1576.3 397.12 1577.3 406.87 1577.4 417.7 C1577.5 428.53 1576.97 437.62 1575.6 450 C1574.23 462.38 1571.63 478.67 1569.2 492 C1566.77 505.33 1563.2 518.67 1561 530 C1558.8 541.33 1557.07 550 1556 560 C1554.93 570 1554.67 580 1554.6 590 C1554.53 600 1554.77 606.67 1555.6 620 C1556.43 633.33 1558.15 655 1559.6 670 C1561.05 685 1563.27 702.28 1564.3 710 C1565.33 717.72 1565.55 715.25 1565.8 716.3" fill="none" stroke="#2b2a29" stroke-width="1.4" />
<path d="M1573.6 310.4 C1574.6 316.17 1577.7 332.57 1579.6 345 C1581.5 357.43 1583.7 372.88 1585 385 C1586.3 397.12 1587.3 406.87 1587.4 417.7 C1587.5 428.53 1586.93 437.62 1585.6 450 C1584.27 462.38 1581.8 478.67 1579.4 492 C1577 505.33 1573.4 518.67 1571.2 530 C1569 541.33 1567.27 550 1566.2 560 C1565.13 570 1564.87 580 1564.8 590 C1564.73 600 1564.97 606.67 1565.8 620 C1566.63 633.33 1568.3 655 1569.8 670 C1571.3 685 1573.7 702.28 1574.8 710 C1575.9 717.72 1576.13 715.25 1576.4 716.3" fill="none" stroke="#2b2a29" stroke-width="1.4" />
<line x1="1490.5" y1="417.9" x2="1551" y2="417.9" stroke="#2b2a29" stroke-width="1.15"/>
<circle cx="1503.5" cy="417.9" r="5.3" fill="none" stroke="#2b2a29" stroke-width="1.15"/>
<line x1="1503.5" y1="410.3" x2="1503.5" y2="425.5" stroke="#2b2a29" stroke-width="1"/>
<circle cx="1655.3" cy="417.9" r="5.3" fill="none" stroke="#2b2a29" stroke-width="1.15"/>
<line x1="1655.3" y1="412.6" x2="1655.3" y2="423.2" stroke="#2b2a29" stroke-width="1"/>
<line x1="1648.3" y1="417.9" x2="1724.8" y2="417.9" stroke="#2b2a29" stroke-width="1.15"/>
<line x1="1490.5" y1="469.3" x2="1551" y2="469.3" stroke="#2b2a29" stroke-width="1.15"/>
<circle cx="1503.5" cy="469.3" r="5.3" fill="none" stroke="#2b2a29" stroke-width="1.15"/>
<line x1="1503.5" y1="461.7" x2="1503.5" y2="476.9" stroke="#2b2a29" stroke-width="1"/>
<circle cx="1655.3" cy="469.3" r="5.3" fill="none" stroke="#2b2a29" stroke-width="1.15"/>
<line x1="1655.3" y1="461.7" x2="1655.3" y2="476.9" stroke="#2b2a29" stroke-width="1"/>
<line x1="1648.3" y1="469.3" x2="1724.8" y2="469.3" stroke="#2b2a29" stroke-width="1.15"/>
<line x1="1490.5" y1="582.6" x2="1551" y2="582.6" stroke="#2b2a29" stroke-width="1.15"/>
<circle cx="1503.5" cy="582.6" r="5.3" fill="none" stroke="#2b2a29" stroke-width="1.15"/>
<line x1="1503.5" y1="575" x2="1503.5" y2="590.2" stroke="#2b2a29" stroke-width="1"/>
<circle cx="1655.3" cy="582.6" r="5.3" fill="none" stroke="#2b2a29" stroke-width="1.15"/>
<line x1="1655.3" y1="575" x2="1655.3" y2="590.2" stroke="#2b2a29" stroke-width="1"/>
<line x1="1648.3" y1="582.6" x2="1724.8" y2="582.6" stroke="#2b2a29" stroke-width="1.15"/>
<line x1="1490.5" y1="635.5" x2="1551" y2="635.5" stroke="#2b2a29" stroke-width="1.15"/>
<circle cx="1503.5" cy="635.5" r="5.3" fill="none" stroke="#2b2a29" stroke-width="1.15"/>
<line x1="1503.5" y1="627.9" x2="1503.5" y2="643.1" stroke="#2b2a29" stroke-width="1"/>
<circle cx="1655.3" cy="635.5" r="5.3" fill="none" stroke="#2b2a29" stroke-width="1.15"/>
<line x1="1655.3" y1="627.9" x2="1655.3" y2="643.1" stroke="#2b2a29" stroke-width="1"/>
<line x1="1648.3" y1="635.5" x2="1759.5" y2="635.5" stroke="#2b2a29" stroke-width="1.15"/>
<line x1="1715.4" y1="417.9" x2="1715.4" y2="635.5" stroke="#2b2a29" stroke-width="1.15"/>
<polygon points="1715.4,417.9 1718.2,432.9 1712.6,432.9" fill="#2b2a29"/>
<polygon points="1715.4,469.3 1712.6,454.3 1718.2,454.3" fill="#2b2a29"/>
<polygon points="1715.4,469.3 1718.2,484.3 1712.6,484.3" fill="#2b2a29"/>
<polygon points="1715.4,582.6 1712.6,567.6 1718.2,567.6" fill="#2b2a29"/>
<polygon points="1715.4,582.6 1718.2,597.6 1712.6,597.6" fill="#2b2a29"/>
<polygon points="1715.4,635.5 1712.6,620.5 1718.2,620.5" fill="#2b2a29"/>
<text x="1709.2" y="442.4" font-size="18.6" text-anchor="middle" fill="#2b2a29" transform="rotate(-90 1709.2 442.4)" xml:space="preserve">32</text>
<text x="1709.2" y="521.4" font-size="18.6" text-anchor="middle" fill="#2b2a29" transform="rotate(-90 1709.2 521.4)" xml:space="preserve">64</text>
<text x="1709.2" y="609.4" font-size="18.6" text-anchor="middle" fill="#2b2a29" transform="rotate(-90 1709.2 609.4)" xml:space="preserve">32</text>
<line x1="1688.7" y1="711.1" x2="1762.5" y2="711.1" stroke="#2b2a29" stroke-width="1.15"/>
<line x1="1755.5" y1="554" x2="1755.5" y2="711.1" stroke="#2b2a29" stroke-width="1.15"/>
<polygon points="1755.5,635.5 1757.8,650.5 1753.2,650.5" fill="#2b2a29"/>
<polygon points="1755.5,711.1 1753.2,696.1 1757.8,696.1" fill="#2b2a29"/>
<text x="1748.6" y="624.8" font-size="18.8" text-anchor="start" fill="#2b2a29" transform="rotate(-90 1748.6 624.8)" xml:space="preserve">47,5 min</text>
<line x1="1507.3" y1="252.2" x2="1594.8" y2="252.2" stroke="#2b2a29" stroke-width="1.15"/>
<line x1="1594.8" y1="252.2" x2="1666.8" y2="449.6" stroke="#2b2a29" stroke-width="1.15"/>
<polygon points="1653.38,412.64 1646.09,400.82 1651.35,398.9" fill="#2b2a29"/>
<polygon points="1657.22,423.16 1664.51,434.98 1659.25,436.9" fill="#2b2a29"/>
<text x="1540.8" y="247.9" font-size="17.4" fill="#2b2a29">2</text>
<ellipse cx="1533.4" cy="241.8" rx="3.8" ry="4.3" fill="none" stroke="#2b2a29" stroke-width="1.1" transform="rotate(18 1533.4 241.8)"/>
<line x1="1530.4" y1="248.2" x2="1536.6" y2="235.4" stroke="#2b2a29" stroke-width="1.1"/>
<text x="1562" y="238" font-size="9.4" text-anchor="middle" fill="#2b2a29" xml:space="preserve">+0,2</text>
<text x="1562" y="245.6" font-size="9.4" text-anchor="middle" fill="#2b2a29" xml:space="preserve">-0,1</text>
<text x="1550.6" y="269.6" font-size="18.1" text-anchor="middle" fill="#2b2a29" xml:space="preserve">8 отв. h12</text>
<line x1="1363" y1="665.4" x2="1459.8" y2="665.4" stroke="#2b2a29" stroke-width="1.15"/>
<line x1="1414.3" y1="640.5" x2="1414.3" y2="673.8" stroke="#2b2a29" stroke-width="1.15"/>
<line x1="1435.9" y1="640.5" x2="1435.9" y2="673.8" stroke="#2b2a29" stroke-width="1.5"/>
<polygon points="1414.3,665.4 1401.5,667.7 1401.5,663.1" fill="#2b2a29"/>
<polygon points="1436.2,665.4 1448.2,663.1 1448.2,667.7" fill="#2b2a29"/>
<text x="1380.6" y="659.4" font-size="19.4" text-anchor="middle" fill="#2b2a29" xml:space="preserve">15</text>
</g>
<g id="texts">
<text transform="translate(558.4 153.9) scale(1 1.03)" font-size="35" fill="#2b2a29" font-weight="bold" textLength="495.8" lengthAdjust="spacingAndGlyphs">УСТАНОВОЧНЫЕ РАЗМЕРЫ</text>
<text transform="translate(1071.5 153.9) scale(1 1)" font-size="35" fill="#2b2a29" font-weight="bold" textLength="65.6" lengthAdjust="spacingAndGlyphs">для</text>
<text transform="translate(1146.5 153.9) scale(1 1.03)" font-size="35" fill="#2b2a29" font-weight="bold" textLength="114.4" lengthAdjust="spacingAndGlyphs">СТАРТ</text>
<text transform="translate(1271.4 153.9) scale(1 1.03)" font-size="35" fill="#2b2a29" font-weight="bold" textLength="49.8" lengthAdjust="spacingAndGlyphs">SB</text>
<text transform="translate(1324 153.9) scale(1 1.03)" font-size="35" fill="#2b2a29" font-weight="bold" textLength="37" lengthAdjust="spacingAndGlyphs">21</text>
<text x="1169.6" y="786.6" font-size="25" text-anchor="middle" fill="#2b2a29" textLength="282.7" lengthAdjust="spacingAndGlyphs" xml:space="preserve">Размеры для крепления</text>
<text x="1169.6" y="814.4" font-size="25" text-anchor="middle" fill="#2b2a29" xml:space="preserve">задней стенки</text>
<text x="1562.6" y="786.6" font-size="25" text-anchor="middle" fill="#2b2a29" textLength="428.3" lengthAdjust="spacingAndGlyphs" xml:space="preserve">Размеры для крепления фиксаторов</text>
<text x="1562.6" y="814.4" font-size="25" text-anchor="middle" fill="#2b2a29" xml:space="preserve">фасада на внутренней</text>
<text x="1562.6" y="842" font-size="25" text-anchor="middle" fill="#2b2a29" xml:space="preserve">поверхности фасада</text>
</g>
</svg>
</body></html>
